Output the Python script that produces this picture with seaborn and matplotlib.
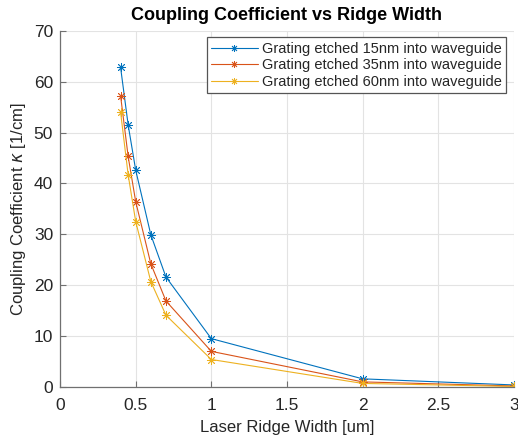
import pandas as pd
import seaborn as sns
import matplotlib.pyplot as plt

ridge_width = [0.4, 0.45, 0.5, 0.6, 0.7, 1.0, 2.0, 3.0]
kappa_15nm = [62.8, 51.5, 42.6, 29.9, 21.6, 9.5, 1.6, 0.4]
kappa_35nm = [57.2, 45.3, 36.4, 24.2, 16.9, 7.0, 1.0, 0.2]
kappa_60nm = [54.0, 41.7, 32.5, 20.7, 14.1, 5.4, 0.7, 0.1]
labels = ["Grating etched 15nm into waveguide",
          "Grating etched 35nm into waveguide",
          "Grating etched 60nm into waveguide"]

df = pd.concat([
    pd.DataFrame({"width": ridge_width, "kappa": vals, "series": lab})
    for vals, lab in zip([kappa_15nm, kappa_35nm, kappa_60nm], labels)
])

sns.set_style("whitegrid")
plt.rcParams['font.family'] = ['Liberation Sans', 'DejaVu Sans']
text_col = "#262626"

fig = plt.figure(figsize=(5.18, 4.4), dpi=100)
ax = fig.add_axes([0.116, 0.1205, 0.876, 0.8095])

# matlab default colours, '*' marker is a plus + cross asterisk
palette = ["#0072BD", "#D95319", "#EDB120"]
sns.lineplot(data=df, x="width", y="kappa", hue="series", palette=palette,
             marker=(8, 2, 0), markersize=6.5, markeredgewidth=0.6,
             linewidth=0.8, ax=ax)
# seaborn paints marker edges white, asterisks need the line colour
for line in ax.lines:
    line.set_markeredgecolor(line.get_color())

ax.set_xlim(0, 3)
ax.set_ylim(0, 70)
ax.set_xticks([0, 0.5, 1, 1.5, 2, 2.5, 3])
ax.set_xticklabels(["0", "0.5", "1", "1.5", "2", "2.5", "3"])
ax.set_yticks(range(0, 71, 10))
ax.grid(True, color="#e3e3e3", linewidth=0.8)
for s in ["top", "right"]:
    ax.spines[s].set_visible(False)
for s in ["left", "bottom"]:
    ax.spines[s].set_color("#707070")
    ax.spines[s].set_linewidth(0.9)
ax.tick_params(direction="in", length=4, width=0.8, color="#707070",
               labelsize=12.5, labelcolor=text_col, left=True, bottom=True)
ax.tick_params(axis="y", pad=5)
ax.tick_params(axis="x", pad=8)

ax.set_title("Coupling Coefficient vs Ridge Width", fontsize=13,
             fontweight="bold", color="black", pad=8)
ax.set_xlabel("Laser Ridge Width [um]", fontsize=12, color=text_col, labelpad=5)
ax.set_ylabel(r"Coupling Coefficient $\kappa$ [1/cm]", fontsize=12,
              color=text_col, labelpad=4)

leg = ax.legend(loc="upper right", bbox_to_anchor=(0.99, 0.99), fontsize=10.5,
                frameon=True, fancybox=False, handlelength=3.2,
                handletextpad=0.3, borderpad=0.3, labelspacing=0.18,
                borderaxespad=0.2)
leg.get_frame().set_edgecolor("#555555")
leg.get_frame().set_linewidth(0.9)
leg.get_frame().set_alpha(1)
for t in leg.get_texts():
    t.set_color(text_col)
for h in leg.legend_handles:
    h.set_markeredgecolor(h.get_color())
    h.set_markersize(5)

fig.savefig("out.png", dpi=100)
